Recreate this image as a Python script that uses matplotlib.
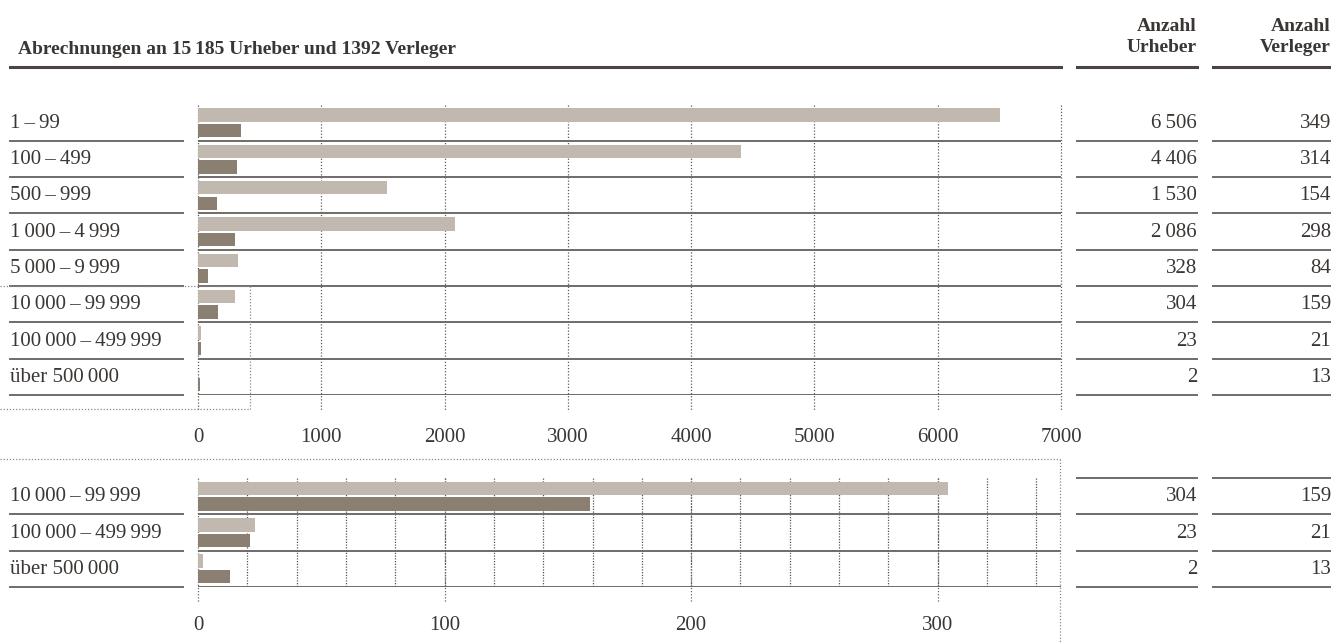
import matplotlib
matplotlib.use("Agg")
import matplotlib.pyplot as plt
from matplotlib.lines import Line2D
import matplotlib.transforms as mtransforms
import numpy as np

# ---------------- data ----------------
TS = "\u2009"
title = f"Abrechnungen an 15{TS}185 Urheber und 1392 Verleger"
categories = [f"1{TS}–{TS}99", f"100{TS}–{TS}499", f"500{TS}–{TS}999",
              f"1{TS}000{TS}–{TS}4{TS}999", f"5{TS}000{TS}–{TS}9{TS}999",
              f"10{TS}000{TS}–{TS}99{TS}999", f"100{TS}000{TS}–{TS}499{TS}999",
              f"über 500{TS}000"]
urheber = [6506, 4406, 1530, 2086, 328, 304, 23, 2]
verleger = [349, 314, 154, 298, 84, 159, 21, 13]
zoom_idx = [5, 6, 7]
top_ticks = [0, 1000, 2000, 3000, 4000, 5000, 6000, 7000]
bottom_ticks = [0, 100, 200, 300]
bottom_minor = list(range(20, 341, 20))
col_head_u = "Anzahl\nUrheber"
col_head_v = "Anzahl\nVerleger"

def fmt(n):
    s = f"{n:,}".replace(",", TS)
    return s if n >= 1000 else str(n)

# ---------------- style ----------------
plt.rcParams['font.family'] = ['Liberation Serif', 'DejaVu Serif']
TXT = "#3a3633"
LIGHT = "#c1b9af"
DARK = "#8a7f70"
RULE = "#6f6b68"
W, H = 1331, 642
fig = plt.figure(figsize=(W / 100, H / 100), dpi=100)
FS = 15

def fx(px): return px / W
def fy(py): return 1 - py / H

def fline(x0, x1, y0, y1, **kw):
    fig.add_artist(Line2D([fx(x0), fx(x1)], [fy(y0), fy(y1)],
                          transform=fig.transFigure, **kw))

ROW = 36.3
L, R = 198, 1061

def make_panel(top_px, nrows, xmax):
    ax = fig.add_axes([fx(L), fy(top_px + nrows * ROW), fx(R) - fx(L), nrows * ROW / H])
    ax.set_xlim(0, xmax)
    ax.set_ylim(nrows, 0)
    ax.axis("off")
    return ax

def draw_rows(ax, idxs, xmax):
    n = len(idxs)
    y = np.arange(n)
    u = [urheber[i] for i in idxs]
    v = [verleger[i] for i in idxs]
    ax.barh(y + 0.29, u, height=0.37, color=LIGHT, zorder=2)
    ax.barh(y + 0.72, v, height=0.37, color=DARK, zorder=2)
    ax.hlines(y + 1, 0, xmax, color=RULE, lw=1.4, zorder=3)
    bt = mtransforms.blended_transform_factory(ax.transAxes, ax.transData)
    span = R - L
    def axx(px): return (px - L) / span
    for k, i in enumerate(idxs):
        ax.plot([axx(10), axx(183)], [k + 1, k + 1], transform=bt, color=RULE,
                lw=1.4, clip_on=False)
        ax.plot([axx(1077), axx(1197)], [k + 1, k + 1], transform=bt, color=RULE,
                lw=1.4, clip_on=False)
        ax.plot([axx(1213), axx(1331)], [k + 1, k + 1], transform=bt, color=RULE,
                lw=1.4, clip_on=False)
        ax.text(axx(10), k + 0.52, categories[i], transform=bt, ha="left",
                va="center", fontsize=FS, color=TXT)
        ax.text(axx(1197), k + 0.52, fmt(urheber[i]), transform=bt, ha="right",
                va="center", fontsize=FS, color=TXT)
        ax.text(axx(1331), k + 0.52, fmt(verleger[i]), transform=bt, ha="right",
                va="center", fontsize=FS, color=TXT)
    return bt, axx

# ---------------- header ----------------
HFS = 14
fig.text(fx(18), fy(50), title, fontsize=HFS, fontweight="bold", color=TXT,
         ha="left", va="center")
fig.text(fx(1197), fy(37), col_head_u, fontsize=HFS, fontweight="bold", color=TXT,
         ha="right", va="center", linespacing=1.3, multialignment="right")
fig.text(fx(1331), fy(37), col_head_v, fontsize=HFS, fontweight="bold", color=TXT,
         ha="right", va="center", linespacing=1.3, multialignment="right")
HR = "#4a4542"
fline(10, 1061, 67, 67, color=HR, lw=2.2)
fline(1077, 1197, 67, 67, color=HR, lw=2.2)
fline(1213, 1331, 67, 67, color=HR, lw=2.2)

# ---------------- top panel ----------------
TOP1 = 104.5
top_idx = list(range(8))
ax1 = make_panel(TOP1, 8, 7000)
draw_rows(ax1, top_idx, 7000)
ext1 = 8 + (410 - (TOP1 + 8 * ROW)) / ROW
ax1.vlines(top_ticks, 0, ext1, colors="#5f5a55", lw=0.9, linestyles=(0, (1, 1.5)),
           clip_on=False, zorder=1)
for t in top_ticks:
    ax1.text(t, 8 + (437 - (TOP1 + 8 * ROW)) / ROW, str(t), ha="center", va="center",
             fontsize=FS, color=TXT, clip_on=False)

# zoom indicator box
DOT = dict(color="#8c8884", lw=0.9, ls=(0, (1, 1.5)))
fline(0, 250, 285.5, 285.5, **DOT)
fline(0, 250, 409, 409, **DOT)
fline(250, 250, 285.5, 409, **DOT)

# ---------------- bottom panel ----------------
TOP2 = 478
ax2 = make_panel(TOP2, 3, 350)
draw_rows(ax2, zoom_idx, 350)
bt2 = mtransforms.blended_transform_factory(ax2.transAxes, ax2.transData)
for a, b in [(1077, 1197), (1213, 1331)]:
    ax2.plot([(a - L) / (R - L), (b - L) / (R - L)], [0, 0], transform=bt2,
             color=RULE, lw=1.4, clip_on=False)
ax2.vlines(bottom_minor, 0, 3, colors="#5a5550", lw=0.9, linestyles=(0, (1, 1.2)),
           clip_on=False, zorder=1)
ext2 = 3 + (602 - (TOP2 + 3 * ROW)) / ROW
ax2.vlines(bottom_ticks, 0, ext2, colors="#6a6560", lw=0.9, linestyles=(0, (1, 1.5)),
           clip_on=False, zorder=1)
for t in bottom_ticks:
    ax2.text(t, 3 + (625 - (TOP2 + 3 * ROW)) / ROW, str(t), ha="center", va="center",
             fontsize=FS, color=TXT, clip_on=False)

fline(0, 1060, 459, 459, **DOT)
fline(1060, 1060, 459, 642, **DOT)

fig.savefig("out.png", dpi=100)
